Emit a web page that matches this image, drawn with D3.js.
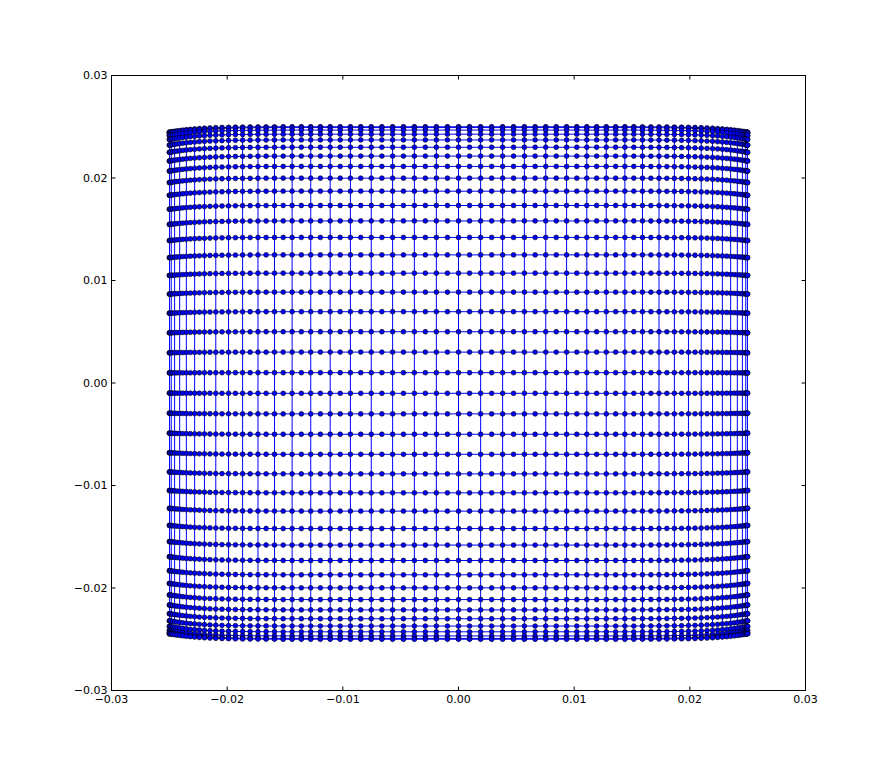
<!DOCTYPE html>
<html>
<head>
<meta charset="utf-8">
<script src="https://cdnjs.cloudflare.com/ajax/libs/d3/7.8.5/d3.min.js"></script>
<style>
body { margin: 0; background: #fff; }
svg { display: block; background: #fff; }
.mesh { fill: none; stroke: #0000ff; stroke-width: 1; }
.dot { fill: #0000ff; stroke: #000; stroke-width: 0.6; }
</style>
</head>
<body>
<svg width="895" height="768"></svg>
<script>
// column x positions (dense at the edges)
var colX = [-0.025, -0.024982, -0.024927, -0.024835, -0.024707, -0.024543, -0.024342, -0.024106,
    -0.023835, -0.023529, -0.023188, -0.022813, -0.022404, -0.021963, -0.021489, -0.020984,
    -0.020448, -0.019882, -0.019287, -0.018664, -0.018013, -0.017336, -0.016633, -0.015906,
    -0.015156, -0.014383, -0.013589, -0.012775, -0.011943, -0.011093, -0.010227, -0.009345,
    -0.008450, -0.007543, -0.006625, -0.005696, -0.004760, -0.003816, -0.002867, -0.001914,
    -0.000958, 0,
    0.000958, 0.001914, 0.002867, 0.003816, 0.004760, 0.005696, 0.006625, 0.007543,
    0.008450, 0.009345, 0.010227, 0.011093, 0.011943, 0.012775, 0.013589, 0.014383,
    0.015156, 0.015906, 0.016633, 0.017336, 0.018013, 0.018664, 0.019287, 0.019882,
    0.020448, 0.020984, 0.021489, 0.021963, 0.022404, 0.022813, 0.023188, 0.023529,
    0.023835, 0.024106, 0.024342, 0.024543, 0.024707, 0.024835, 0.024927, 0.024982, 0.025];

// how far each column reaches vertically (rows droop near the sides)
var colScale = [0.9785, 0.97866, 0.97912, 0.97988, 0.98089, 0.98212, 0.98353, 0.98506,
    0.98666, 0.98828, 0.98987, 0.99139, 0.99282, 0.99411, 0.99527, 0.99627,
    0.99712, 0.99782, 0.99839, 0.99884, 0.99919, 0.99945, 0.99963, 0.99977,
    1, 1, 1, 1, 1, 1, 1, 1, 1, 1, 1, 1, 1, 1, 1, 1, 1, 1,
    1, 1, 1, 1, 1, 1, 1, 1, 1, 1, 1, 1, 1, 1, 1, 1, 1,
    0.99977, 0.99963, 0.99945, 0.99919, 0.99884, 0.99839, 0.99782, 0.99712,
    0.99627, 0.99527, 0.99411, 0.99282, 0.99139, 0.98987, 0.98828, 0.98666,
    0.98506, 0.98353, 0.98212, 0.98089, 0.97988, 0.97912, 0.97866, 0.9785];

// row y positions at the middle column
var rowY = [0.025, 0.024919, 0.024676, 0.024274, 0.023713, 0.022999, 0.022136, 0.021130,
    0.019986, 0.018713, 0.017318, 0.015811, 0.014202, 0.0125, 0.010717, 0.008865,
    0.006955, 0.005001, 0.003013, 0.001007,
    -0.001007, -0.003013, -0.005001, -0.006955, -0.008865, -0.010717, -0.0125, -0.014202,
    -0.015811, -0.017318, -0.018713, -0.019986, -0.021130, -0.022136, -0.022999, -0.023713,
    -0.024274, -0.024676, -0.024919, -0.025];

var xTicks = [-0.03, -0.02, -0.01, 0.00, 0.01, 0.02, 0.03];
var yTicks = [-0.03, -0.02, -0.01, 0.00, 0.01, 0.02, 0.03];

var svg = d3.select("svg"),
    width = +svg.attr("width"),
    height = +svg.attr("height");

var x = d3.scaleLinear().domain([-0.03, 0.03]).range([111.5, 805.5]);
var y = d3.scaleLinear().domain([-0.03, 0.03]).range([690.5, 75.5]);

// build the grid points
var rows = rowY.map(function(ry) {
    return colX.map(function(cx, i) { return [cx, ry * colScale[i]]; });
});
var cols = colX.map(function(cx, i) {
    return rowY.map(function(ry) { return [cx, ry * colScale[i]]; });
}).filter(function(c, i) { return i % 2 === 1; });

var line = d3.line()
    .x(function(d) { return x(d[0]); })
    .y(function(d) { return y(d[1]); });

var g = svg.append("g");

g.selectAll(".col")
    .data(cols)
    .enter().append("path")
    .attr("class", "mesh col")
    .attr("d", line);

g.selectAll(".row")
    .data(rows)
    .enter().append("path")
    .attr("class", "mesh row")
    .attr("d", line);

g.selectAll(".dot")
    .data(d3.merge(rows))
    .enter().append("circle")
    .attr("class", "dot")
    .attr("cx", function(d) { return x(d[0]); })
    .attr("cy", function(d) { return y(d[1]); })
    .attr("r", 2.4);

// axes, ticks pointing inwards on all four sides
var fmt = d3.format(".2f");

function styleAxis(sel) {
    sel.select(".domain").remove();
    sel.attr("font-family", "'DejaVu Sans', sans-serif")
        .attr("font-size", "11px");
    sel.selectAll(".tick text").attr("fill", "#000");
    sel.selectAll(".tick line").attr("stroke", "#000");
}

svg.append("g")
    .attr("transform", "translate(0," + y.range()[0] + ")")
    .call(d3.axisBottom(x).tickValues(xTicks).tickFormat(fmt)
        .tickSizeInner(-4).tickSizeOuter(0).tickPadding(4.5).offset(0))
    .call(styleAxis);

svg.append("g")
    .attr("transform", "translate(0," + y.range()[1] + ")")
    .call(d3.axisTop(x).tickValues(xTicks).tickFormat("")
        .tickSizeInner(-4).tickSizeOuter(0).offset(0))
    .call(styleAxis);

svg.append("g")
    .attr("transform", "translate(" + x.range()[0] + ",0)")
    .call(d3.axisLeft(y).tickValues(yTicks).tickFormat(fmt)
        .tickSizeInner(-4).tickSizeOuter(0).tickPadding(4).offset(0))
    .call(styleAxis);

svg.append("g")
    .attr("transform", "translate(" + x.range()[1] + ",0)")
    .call(d3.axisRight(y).tickValues(yTicks).tickFormat("")
        .tickSizeInner(-4).tickSizeOuter(0).offset(0))
    .call(styleAxis);

// frame
svg.append("rect")
    .attr("x", x.range()[0])
    .attr("y", y.range()[1])
    .attr("width", x.range()[1] - x.range()[0])
    .attr("height", y.range()[0] - y.range()[1])
    .attr("fill", "none")
    .attr("stroke", "#000")
    .attr("stroke-width", 1);
</script>
</body>
</html>
